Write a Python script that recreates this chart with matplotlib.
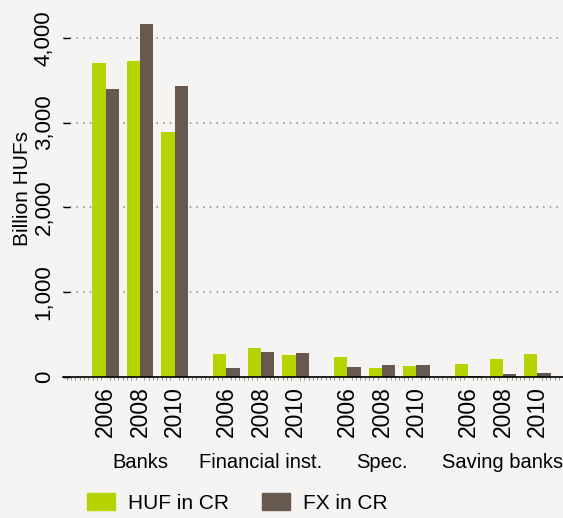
import matplotlib.pyplot as plt
from matplotlib.ticker import FuncFormatter, MultipleLocator
from matplotlib.patches import Patch

plt.rcParams['font.family'] = ['Liberation Sans', 'DejaVu Sans']

# data (billion HUF)
groups = ["Banks", "Financial inst.", "Spec.", "Saving banks"]
years = ["2006", "2008", "2010"]
huf_cr = [3700, 3720, 2890,
          273, 343, 257,
          237, 108, 135,
          159, 218, 276]
fx_cr = [3400, 4165, 3430,
         104, 296, 285,
         120, 147, 143,
         10, 41, 49]

green = "#b5d400"
brown = "#665a50"
bg = "#f5f4f2"

# x positions: 3 years per group, extra half gap between groups
pos = []
for g in range(len(groups)):
    for j in range(len(years)):
        pos.append(g * 3.5 + j)
w = 0.386

fig = plt.figure(figsize=(5.63, 5.18), dpi=100, facecolor=bg)
ax = fig.add_axes([63 / 563, 1 - 377.3 / 518, 1 - 63 / 563, 377.3 / 518])
ax.set_facecolor(bg)

ax.bar([p - w / 2 for p in pos], huf_cr, width=w, color=green, zorder=3)
ax.bar([p + w / 2 for p in pos], fx_cr, width=w, color=brown, zorder=3)

ax.set_xlim(-1.23, 13.24)
ax.set_ylim(0, 4444)

for s in ["top", "right", "left"]:
    ax.spines[s].set_visible(False)
ax.spines["bottom"].set_color("black")
ax.spines["bottom"].set_linewidth(1.2)
ax.spines["bottom"].set_zorder(4)

ax.yaxis.set_major_locator(MultipleLocator(1000))
ax.yaxis.set_major_formatter(FuncFormatter(lambda v, p: f"{int(v):,}"))
ax.tick_params(axis="y", direction="in", length=5.2, width=1, color="black",
               labelsize=16, pad=6)
for lab in ax.get_yticklabels():
    lab.set_rotation(90)
    lab.set_va("center")
ax.grid(axis="y", color="#999999", linestyle=(0, (1, 3)), linewidth=1.2, zorder=0)

ax.set_xticks(pos)
ax.set_xticklabels(years * len(groups), rotation=90)
ax.tick_params(axis="x", length=0, labelsize=16.5, pad=6)
ax.xaxis.set_minor_locator(MultipleLocator(0.125))
ax.tick_params(axis="x", which="minor", direction="out", length=2, width=0.6, color="#888888")

ax.set_ylabel("Billion HUFs", fontsize=15, labelpad=1)

for g, name in enumerate(groups):
    ax.text(g * 3.5 + 1, -0.225, name, transform=ax.get_xaxis_transform(),
            ha="center", va="center", fontsize=14.5)

handles = [Patch(color=green, label="HUF in CR"), Patch(color=brown, label="FX in CR")]
fig.legend(handles=handles, loc="center left", bbox_to_anchor=(87 / 563, 1 - 503 / 518),
           ncol=2, frameon=False, fontsize=15, handlelength=1.35, handleheight=0.9,
           columnspacing=1.6, handletextpad=0.6, borderpad=0, borderaxespad=0)

fig.savefig("out.png", dpi=100, facecolor=bg)
